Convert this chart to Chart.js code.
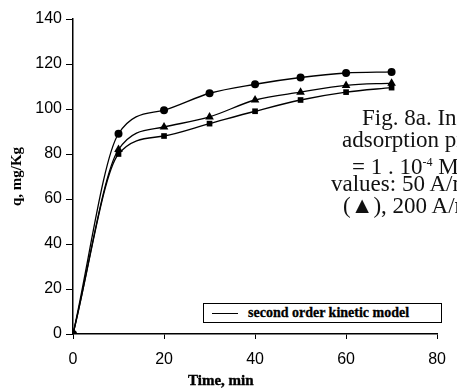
<!DOCTYPE html>
<html>
<head>
<meta charset="utf-8">
<script src="https://cdn.jsdelivr.net/npm/chart.js@4"></script>
<style>
  body { margin: 0; background: #fff; overflow: hidden; }
  #wrap { position: relative; width: 457px; height: 390px; overflow: hidden; }
  .cap { position: absolute; font-family: "Liberation Serif", serif; font-size: 23px; color: #111; white-space: nowrap; line-height: 22px; }
  .cap sup { font-size: 12px; vertical-align: 8px; }
  #legendBox { position: absolute; left: 203px; top: 303px; width: 237px; height: 18px; border: 1px solid #000; background: #fff; }
  #legendBox .ln { position: absolute; left: 8px; top: 9px; width: 26px; border-top: 1px solid #000; }
  #legendBox .tx { position: absolute; left: 44px; top: 1px; font-family: "Liberation Serif", serif; font-weight: bold; font-size: 14px; color: #000; -webkit-text-stroke: 0.3px #000; }
  #xTitle { position: absolute; left: 188px; top: 372px; font-family: "Liberation Serif", serif; font-weight: bold; font-size: 15px; color: #000; -webkit-text-stroke: 0.4px #000; }
</style>
</head>
<body>
<div id="wrap">
  <canvas id="kinChart"></canvas>
  <div class="cap" style="left:362px; top:107px;">Fig. 8a. Influence</div>
  <div class="cap" style="left:342px; top:129px;">adsorption process</div>
  <div class="cap" style="left:352px; top:151px;">= 1 . 10<sup>-4</sup> M</div>
  <div class="cap" style="left:331px; top:173px;">values: 50 A/m</div>
  <div class="cap" style="left:343px; top:195px;">(▲), 200 A/m</div>
  <div id="legendBox"><div class="ln"></div><div class="tx">second order kinetic model</div></div>
  <div id="xTitle">Time, min</div>
</div>
<script>
// tiempos de muestreo (min)
const times = [0, 10, 20, 30, 40, 50, 60, 70];

// q (mg/Kg) por serie
const qCircle = [0, 89, 99.5, 107, 111, 114, 116, 116.5];
const qTriangle = [0, 82, 92, 96.5, 104, 107.5, 110.5, 111.5];
const qSquare = [0, 80, 88, 93.5, 99, 104, 107.5, 109.5];

const xTicks = [0, 20, 40, 60, 80];
const yTicks = [0, 20, 40, 60, 80, 100, 120, 140];

const toPoints = arr => times.map((t, i) => ({ x: t, y: arr[i] }));

const serie = (label, arr, style, r) => ({
  label: label,
  data: toPoints(arr),
  borderColor: '#000',
  backgroundColor: '#000',
  borderWidth: 1.3,
  pointStyle: style,
  pointRadius: r,
  pointBorderWidth: 0,
  cubicInterpolationMode: 'monotone',
  fill: false
});

const tickFont = { family: "'Liberation Sans', Arial, sans-serif", size: 16 };

const ctx = document.getElementById('kinChart').getContext('2d');
new Chart(ctx, {
  type: 'line',
  data: {
    datasets: [
      serie('circle', qCircle, 'circle', 4),
      serie('triangle', qTriangle, 'triangle', 5),
      serie('square', qSquare, 'rect', 4)
    ]
  },
  options: {
    responsive: true,
    maintainAspectRatio: false,
    animation: false,
    layout: { padding: { top: 19, right: 10, left: 0, bottom: 0 } },
    plugins: {
      legend: { display: false },
      tooltip: { enabled: false }
    },
    scales: {
      x: {
        type: 'linear',
        min: xTicks[0],
        max: xTicks[xTicks.length - 1],
        afterBuildTicks: axis => { axis.ticks = xTicks.map(v => ({ value: v })); },
        afterFit: axis => { axis.height = 56; },
        grid: { display: true, drawOnChartArea: false, drawTicks: true, tickLength: 5, color: '#000', lineWidth: 1 },
        border: { display: true, color: '#000', width: 1.5 },
        ticks: { color: '#000', font: tickFont, padding: 11, maxRotation: 0 }
      },
      y: {
        min: yTicks[0],
        max: yTicks[yTicks.length - 1],
        afterBuildTicks: axis => { axis.ticks = yTicks.map(v => ({ value: v })); },
        afterFit: axis => { axis.width = 73; },
        grid: { display: true, drawOnChartArea: false, drawTicks: true, tickLength: 7, color: '#000', lineWidth: 1 },
        border: { display: true, color: '#000', width: 1.5 },
        ticks: { color: '#000', font: tickFont, padding: 4 },
        title: {
          display: true,
          text: 'q, mg/Kg',
          color: '#000',
          font: { family: "'Liberation Serif', serif", weight: 'bold', size: 15 },
          padding: { top: 8, bottom: 0 }
        }
      }
    }
  }
});
</script>
</body>
</html>
